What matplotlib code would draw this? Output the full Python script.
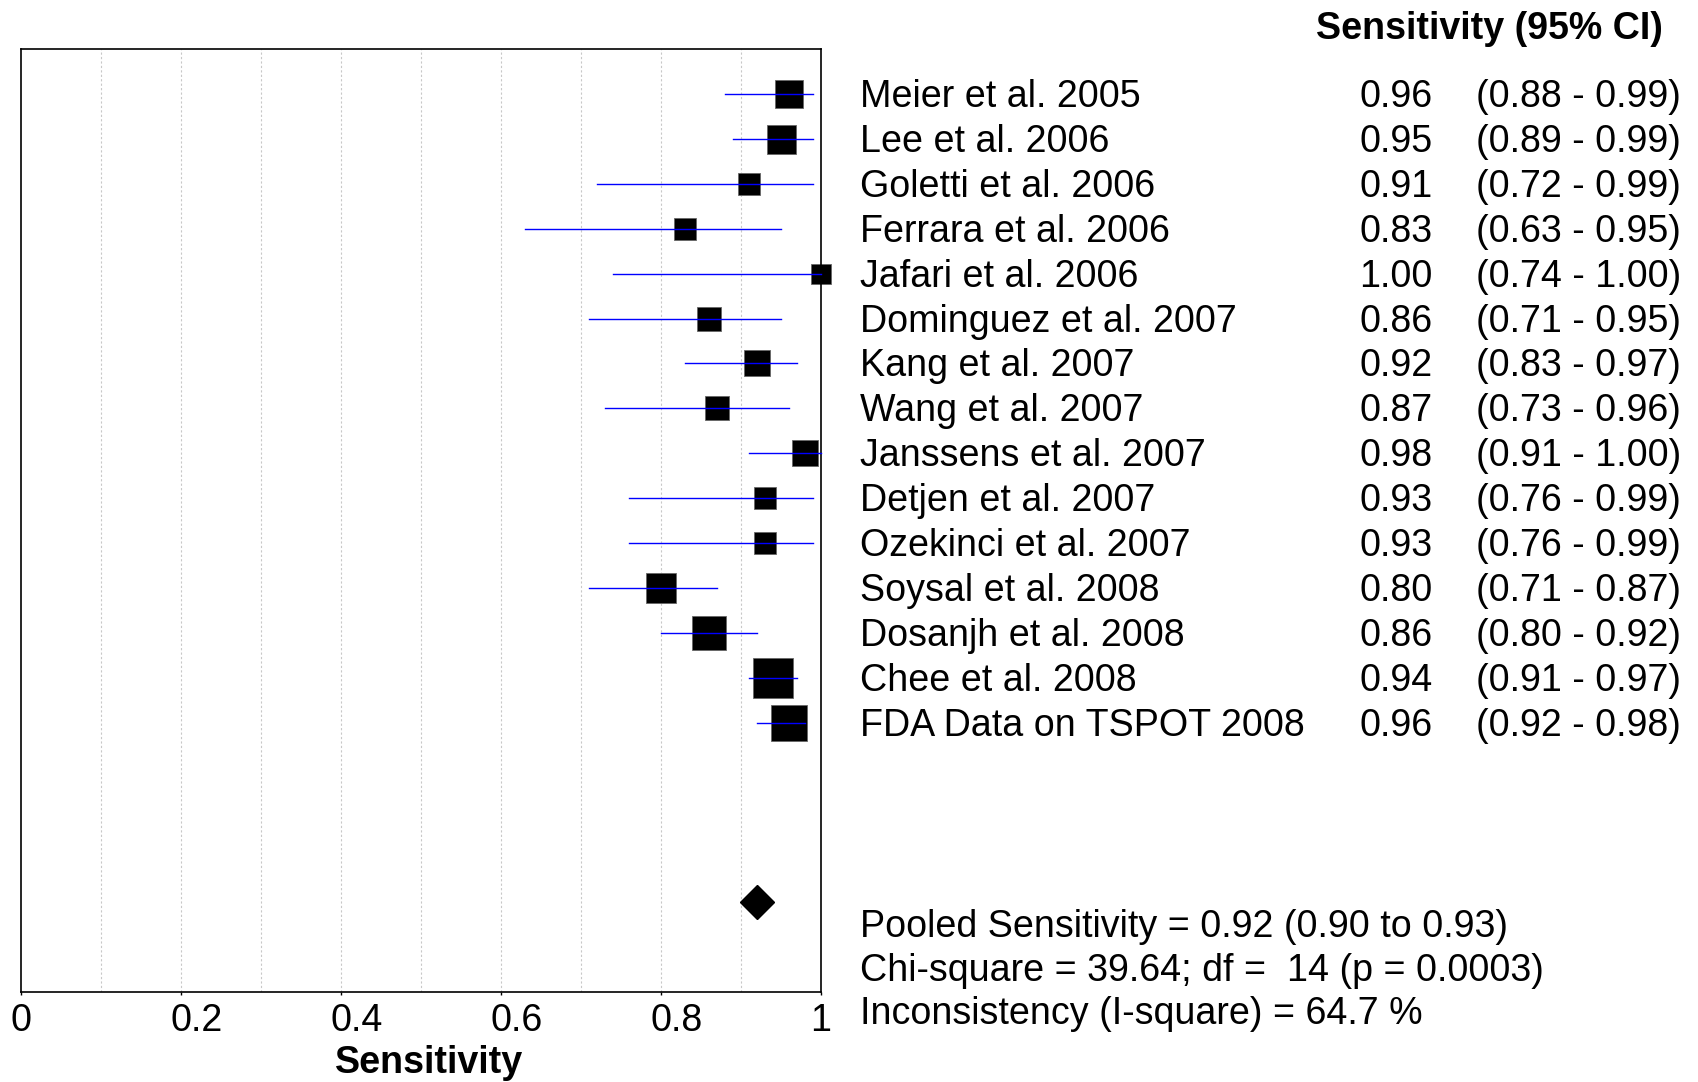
import matplotlib
matplotlib.use("Agg")
import matplotlib.pyplot as plt
from matplotlib.transforms import blended_transform_factory, ScaledTranslation

plt.rcParams['font.family'] = ['Liberation Sans', 'DejaVu Sans']

# study data
studies = ["Meier et al. 2005", "Lee et al. 2006", "Goletti et al. 2006",
           "Ferrara et al. 2006", "Jafari et al. 2006", "Dominguez et al. 2007",
           "Kang et al. 2007", "Wang et al. 2007", "Janssens et al. 2007",
           "Detjen et al. 2007", "Ozekinci et al. 2007", "Soysal et al. 2008",
           "Dosanjh et al. 2008", "Chee et al. 2008", "FDA Data on TSPOT 2008"]
sens = [0.96, 0.95, 0.91, 0.83, 1.00, 0.86, 0.92, 0.87, 0.98, 0.93, 0.93, 0.80, 0.86, 0.94, 0.96]
ci_lo = [0.88, 0.89, 0.72, 0.63, 0.74, 0.71, 0.83, 0.73, 0.91, 0.76, 0.76, 0.71, 0.80, 0.91, 0.92]
ci_hi = [0.99, 0.99, 0.99, 0.95, 1.00, 0.95, 0.97, 0.96, 1.00, 0.99, 0.99, 0.87, 0.92, 0.97, 0.98]
# study weight (box side in pixels)
weight = [28, 29, 22, 21.3, 20.5, 24, 26.5, 24, 27, 22, 22, 30, 33.5, 39.5, 36]

pooled = 0.92
pooled_row = 18
stats = ["Pooled Sensitivity = 0.92 (0.90 to 0.93)",
         "Chi-square = 39.64; df =  14 (p = 0.0003)",
         "Inconsistency (I-square) = 64.7 %"]

W, H = 1698, 1082
fs = 27.1

fig = plt.figure(figsize=(W / 100, H / 100), dpi=100, facecolor='white')
ax = fig.add_axes([21.3 / W, 1 - 992.3 / H, 799.7 / W, 943.3 / H])

ax.set_xlim(0, 1)
ax.set_ylim(20, -1)

# grid
for g in [0.1, 0.2, 0.3, 0.4, 0.5, 0.6, 0.7, 0.8, 0.9]:
    ax.axvline(g, color='#c8c8c8', lw=0.8, ls=(0, (2, 2)), zorder=0)

rows = list(range(len(studies)))
for i in rows:
    ax.plot(sens[i], i, marker='s', color='black', markeredgecolor='#666666',
            markeredgewidth=0.6, markersize=weight[i] * 0.72, clip_on=False, zorder=2)
    ax.plot([ci_lo[i], ci_hi[i]], [i, i], color='blue', lw=1.0, zorder=3, clip_on=False)

ax.plot(pooled, pooled_row, marker='D', color='black', markersize=33 * 0.72 / 1.414,
        zorder=3, clip_on=False)

ax.set_xticks([0, 0.2, 0.4, 0.6, 0.8, 1])
ax.set_xticklabels(["0", "0.2", "0.4", "0.6", "0.8", "1"])
ax.tick_params(axis='x', direction='out', length=2, width=1, pad=6, labelsize=fs)
# labels sit with their first digit on the tick
shift = ScaledTranslation(-10.5 / 100, 0, fig.dpi_scale_trans)
for lab in ax.get_xticklabels():
    lab.set_horizontalalignment('left')
    lab.set_transform(lab.get_transform() + shift)
ax.set_yticks([])
for s in ax.spines.values():
    s.set_color('black')
    s.set_linewidth(1.2)

fig.text(429 / W, 1 - 1072.7 / H, "Sensitivity", fontsize=fs, fontweight='bold',
         ha='center', va='baseline')

# right-hand table
tr = blended_transform_factory(fig.transFigure, ax.transData)
fig.text(1316 / W, 1 - 39.3 / H, "Sensitivity (95% CI)", fontsize=fs,
         fontweight='bold', ha='left', va='baseline')
off = 0.29
for i in rows:
    fig.text(859.7 / W, i + off, studies[i], transform=tr, fontsize=fs,
             ha='left', va='baseline')
    fig.text(1432.6 / W, i + off, "%.2f" % sens[i], transform=tr, fontsize=fs,
             ha='right', va='baseline')
    fig.text(1476.4 / W, i + off, "(%.2f - %.2f)" % (ci_lo[i], ci_hi[i]),
             transform=tr, fontsize=fs, ha='left', va='baseline')

for k, yb in enumerate([937, 981, 1024]):
    fig.text(860 / W, 1 - yb / H, stats[k], fontsize=fs, ha='left', va='baseline')

fig.savefig("out.png", dpi=100, facecolor='white')
